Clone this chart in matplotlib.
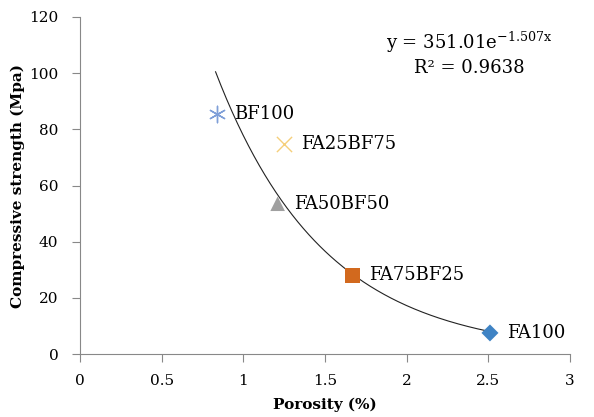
import numpy as np
import matplotlib.pyplot as plt

plt.rcParams['font.family'] = ['DejaVu Serif']

names = ['BF100', 'FA25BF75', 'FA50BF50', 'FA75BF25', 'FA100']
porosity = [0.84, 1.25, 1.21, 1.67, 2.51]
strength = [85.3, 74.9, 53.5, 28.0, 7.5]
markers = [(6, 2, 0), 'x', '^', 's', 'D']
colors = ['#7f9fd8', '#f5cf7a', '#a0a0a0', '#d2691e', '#3f83c4']
sizes = [140, 120, 110, 120, 75]

fit_a = 351.01
fit_b = -1.507
fit_range = (0.83, 2.5)

fig = plt.figure(figsize=(5.94, 4.17), dpi=100)
ax = fig.add_axes([80 / 594, 63 / 417, 490 / 594, 337 / 417])

xs = np.linspace(fit_range[0], fit_range[1], 200)
ax.plot(xs, fit_a * np.exp(fit_b * xs), color='#222222', lw=0.8, zorder=2)

for name, x, y, m, c, s in zip(names, porosity, strength, markers, colors, sizes):
    if m == 'x' or isinstance(m, tuple):
        ax.scatter(x, y, marker=m, s=s, color=c, linewidths=1.0, zorder=3)
    else:
        ax.scatter(x, y, marker=m, s=s, color=c, edgecolors='none', zorder=3)
    ax.annotate(name, (x, y), xytext=(12, 0), textcoords='offset points',
                va='center', ha='left', fontsize=13)

ax.text(0.795, 0.925, 'y = 351.01e$^{\\mathregular{-1.507x}}$', transform=ax.transAxes,
        ha='center', va='center', fontsize=13)
ax.text(0.795, 0.85, 'R² = 0.9638', transform=ax.transAxes,
        ha='center', va='center', fontsize=13)

ax.set_xlim(0, 3)
ax.set_ylim(0, 120)
ax.set_xticks(np.arange(0, 3.01, 0.5))
ax.set_xticklabels(['0', '0.5', '1', '1.5', '2', '2.5', '3'])
ax.set_yticks(np.arange(0, 121, 20))
ax.tick_params(colors='#888888', labelcolor='black', labelsize=11, length=5.5, width=0.8)
ax.tick_params(axis='x', pad=9)
ax.tick_params(axis='y', pad=10)
ax.set_xlabel('Porosity (%)', fontweight='bold', fontsize=11, labelpad=7)
ax.set_ylabel('Compressive strength (Mpa)', fontweight='bold', fontsize=11, labelpad=3)

for side in ['top', 'right']:
    ax.spines[side].set_visible(False)
for side in ['left', 'bottom']:
    ax.spines[side].set_color('#888888')
    ax.spines[side].set_linewidth(0.8)

fig.savefig('out.png', dpi=100)
